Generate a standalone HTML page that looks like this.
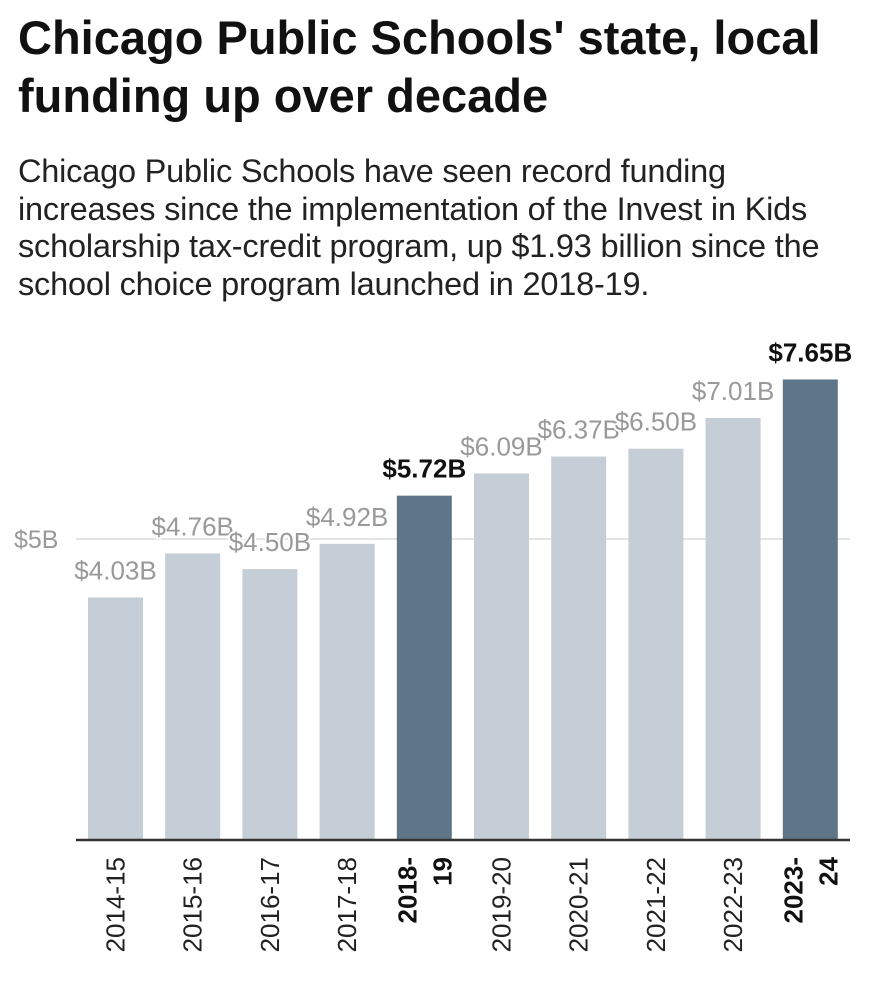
<!DOCTYPE html>
<html><head><meta charset="utf-8"><style>
body{margin:0;background:#fff;width:872px;height:994px;overflow:hidden;font-family:"Liberation Sans",sans-serif}
h1{position:absolute;left:18px;top:9px;margin:0;font-size:47px;line-height:58px;font-weight:bold;color:#111;width:860px;white-space:nowrap}
p{position:absolute;left:18px;top:153px;margin:0;font-size:32.5px;line-height:37.5px;color:#222;width:860px;white-space:nowrap;letter-spacing:-0.2px}
svg{position:absolute;left:0;top:0}
</style></head><body>
<h1>Chicago Public Schools' state, local<br>funding up over decade</h1>
<p>Chicago Public Schools have seen record funding<br>increases since the implementation of the Invest in Kids<br>scholarship tax-credit program, up $1.93 billion since the<br>school choice program launched in 2018-19.</p>
<svg id="chart" width="872" height="994"></svg>
<script>
const categories=["2014-15","2015-16","2016-17","2017-18","2018-19","2019-20","2020-21","2021-22","2022-23","2023-24"];
const values=[4.03,4.76,4.50,4.92,5.72,6.09,6.37,6.50,7.01,7.65];
const valueLabels=["$4.03B","$4.76B","$4.50B","$4.92B","$5.72B","$6.09B","$6.37B","$6.50B","$7.01B","$7.65B"];
const highlighted=[false,false,false,false,true,false,false,false,false,true];
const yTicks=[5];
const yTickLabels=["$5B"];
const NS="http://www.w3.org/2000/svg";
const svg=document.getElementById('chart');
const baseY=840,pxPerUnit=60.2,x0=88,step=77.2,bw=55;
const y=v=>baseY-v*pxPerUnit;
const x=i=>x0+i*step;
function mk(t,a){const e=document.createElementNS(NS,t);for(const k in a)e.setAttribute(k,a[k]);svg.appendChild(e);return e;}
yTicks.forEach((t,i)=>{
 const g=mk('line',{x1:76,x2:850,y1:y(t),y2:y(t),stroke:'#e4e4e4','stroke-width':2});
 
 
 const l=mk('text',{x:14,y:y(t)+9,'font-size':25,fill:'#999'});
 l.textContent=yTickLabels[i];
 
 
});
values.forEach((v,i)=>{
 const r=mk('rect',{x:x(i),y:y(v),width:bw,height:baseY-y(v),fill:highlighted[i]?'#5f7689':'#c5ced6'});
 
 
});
values.forEach((v,i)=>{
 const cx=x(i)+bw/2;
 const t=mk('text',{x:cx,y:y(v)-18,'text-anchor':'middle','font-size':26,'font-weight':highlighted[i]?'bold':'normal',fill:highlighted[i]?'#111':'#999',stroke:'#fff','stroke-width':4,'paint-order':'stroke'});
 t.textContent=valueLabels[i];
 
 
 const g=mk('g',{transform:`translate(${cx},857) rotate(-90)`});
 
 
 if(highlighted[i]){
  const parts=[categories[i].slice(0,5),categories[i].slice(5)];
  parts.forEach((p,j)=>{
   const s=document.createElementNS(NS,'text');
   s.setAttribute('x',0);s.setAttribute('y',j===0?-8:27);
   s.setAttribute('text-anchor','end');s.setAttribute('font-size',26);s.setAttribute('font-weight','bold');s.setAttribute('fill','#111');
   s.textContent=parts[j];g.appendChild(s);
  });
 } else {
  const s=document.createElementNS(NS,'text');
  s.setAttribute('x',0);s.setAttribute('y',9);
  s.setAttribute('text-anchor','end');s.setAttribute('font-size',26);s.setAttribute('fill','#222');
  s.textContent=categories[i];g.appendChild(s);
 }
});
const ax=mk('line',{x1:76,x2:850,y1:baseY,y2:baseY,stroke:'#333','stroke-width':2.5});


</script>
</body></html>
